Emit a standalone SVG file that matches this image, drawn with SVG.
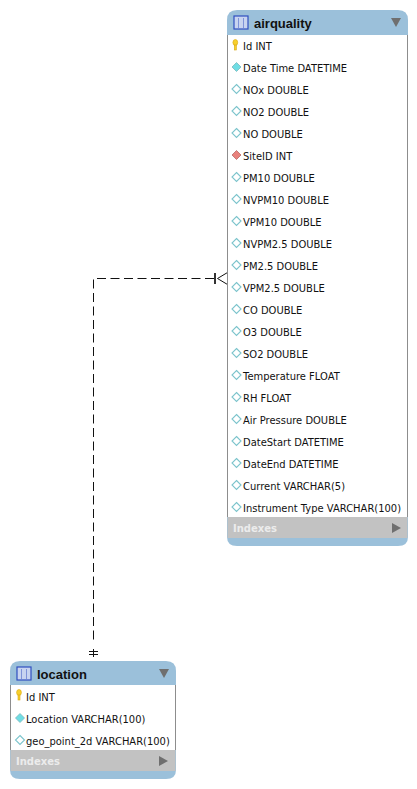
<svg xmlns="http://www.w3.org/2000/svg" width="417" height="789" viewBox="0 0 417 789">
<style>
.f{font-family:"DejaVu Sans","Liberation Sans",sans-serif;font-size:9.950px;fill:#111}
.t{font-family:"Liberation Sans",Arial,sans-serif;font-size:13px;font-weight:bold;fill:#111}
.i{font-family:"DejaVu Sans","Liberation Sans",sans-serif;font-size:10px;font-weight:bold;fill:#ececec}
.c{fill:none;stroke:#111;stroke-width:1}
.h{fill:#9bc0da}
.b{fill:#fff}
.g{fill:#c2c2c2}
.o{fill:none;stroke:#8d8d8d;stroke-width:1}
.ar{fill:#6f6f6f}
.k{fill:#f7d02c;stroke:#d8a714;stroke-width:.6}
.dw{fill:#fff;stroke:#7cc4cc;stroke-width:1.100}
.dc{fill:#6fdde4;stroke:#7ab8bd;stroke-width:.8}
.dr{fill:#e8817c;stroke:#b86a66;stroke-width:.8}
.ic{fill:#c8d4f0;stroke:#2f4fc0;stroke-width:1.200}
.il{stroke:#7f93d8;stroke-width:1}
</style>
<defs>
<path id="dia" d="M0-4.500 4.500 0 0 4.500-4.500 0Z"/>
<g id="key"><ellipse cx="0" cy="-2.500" rx="2.400" ry="3"/><rect x="-1" y="0" width="2" height="5"/></g>
<g id="tic"><rect x="0" y="0" width="14" height="13" class="ic"/><path class="il" d="M4.500 2V12M9.500 2V12"/></g>
</defs>
<g id="connectors">
<path class="c" stroke-dasharray="9 4.500" d="M214 278.500H93.500V644"/>
<path class="c" d="M93.500 649V657M89 651.500H98M89 654.500H98"/>
<path class="c" d="M227.500 272.500 217.500 278.500 227.500 284.500"/>
<path d="M215 273V284" stroke="#333" stroke-width="2" fill="none"/>
</g>
<g id="airquality">
<path class="h" d="M227 518V20Q227 10 237 10H398Q408 10 408 20V537Q408 546 398 546H237Q227 546 227 537Z"/>
<rect class="b" x="227.500" y="35" width="180" height="482"/>
<rect class="g" x="227.500" y="517" width="180" height="21"/>
<path d="M227.500 35V517M407.500 35V517" class="o"/>
<use href="#tic" x="234" y="16"/>
<text class="t" x="254" y="28">airquality</text>
<path class="ar" d="M391 18H401L396 27Z"/>
<use href="#key" class="k" x="235.300" y="45"/>
<text class="f" x="243" y="50">Id INT</text>
<use href="#dia" class="dc" x="236.500" y="67"/>
<text class="f" x="243" y="72">Date Time DATETIME</text>
<use href="#dia" class="dw" x="236.500" y="89"/><text class="f" x="243" y="94">NOx DOUBLE</text>
<use href="#dia" class="dw" x="236.500" y="111"/><text class="f" x="243" y="116">NO2 DOUBLE</text>
<use href="#dia" class="dw" x="236.500" y="133"/><text class="f" x="243" y="138">NO DOUBLE</text>
<use href="#dia" class="dr" x="236.500" y="155"/><text class="f" x="243" y="160">SiteID INT</text>
<use href="#dia" class="dw" x="236.500" y="177"/><text class="f" x="243" y="182">PM10 DOUBLE</text>
<use href="#dia" class="dw" x="236.500" y="199"/><text class="f" x="243" y="204">NVPM10 DOUBLE</text>
<use href="#dia" class="dw" x="236.500" y="221"/><text class="f" x="243" y="226">VPM10 DOUBLE</text>
<use href="#dia" class="dw" x="236.500" y="243"/><text class="f" x="243" y="248">NVPM2.5 DOUBLE</text>
<use href="#dia" class="dw" x="236.500" y="265"/><text class="f" x="243" y="270">PM2.5 DOUBLE</text>
<use href="#dia" class="dw" x="236.500" y="287"/><text class="f" x="243" y="292">VPM2.5 DOUBLE</text>
<use href="#dia" class="dw" x="236.500" y="309"/><text class="f" x="243" y="314">CO DOUBLE</text>
<use href="#dia" class="dw" x="236.500" y="331"/><text class="f" x="243" y="336">O3 DOUBLE</text>
<use href="#dia" class="dw" x="236.500" y="353"/><text class="f" x="243" y="358">SO2 DOUBLE</text>
<use href="#dia" class="dw" x="236.500" y="375"/><text class="f" x="243" y="380">Temperature FLOAT</text>
<use href="#dia" class="dw" x="236.500" y="397"/><text class="f" x="243" y="402">RH FLOAT</text>
<use href="#dia" class="dw" x="236.500" y="419"/><text class="f" x="243" y="424">Air Pressure DOUBLE</text>
<use href="#dia" class="dw" x="236.500" y="441"/><text class="f" x="243" y="446">DateStart DATETIME</text>
<use href="#dia" class="dw" x="236.500" y="463"/><text class="f" x="243" y="468">DateEnd DATETIME</text>
<use href="#dia" class="dw" x="236.500" y="485"/><text class="f" x="243" y="490">Current VARCHAR(5)</text>
<use href="#dia" class="dw" x="236.500" y="507"/><text class="f" x="243" y="512">Instrument Type VARCHAR(100)</text>
<text class="i" x="233" y="532">Indexes</text>
<path class="ar" d="M392 523 401 528 392 533Z"/>
</g>
<g id="location">
<path class="h" d="M10 671Q10 661 20 661H166Q176 661 176 671V770Q176 779 166 779H20Q10 779 10 770Z"/>
<rect class="b" x="10.500" y="685" width="165" height="65"/>
<rect class="g" x="10.500" y="750" width="165" height="21"/>
<path d="M10.500 685V750M175.500 685V750" class="o"/>
<use href="#tic" x="17" y="667"/>
<text class="t" x="37" y="679">location</text>
<path class="ar" d="M159 669H169L164 678Z"/>
<use href="#key" class="k" x="19" y="695"/>
<text class="f" x="26" y="701">Id INT</text>
<use href="#dia" class="dc" x="20" y="718"/><text class="f" x="26" y="723">Location VARCHAR(100)</text>
<use href="#dia" class="dw" x="20" y="740"/><text class="f" x="26" y="745">geo_point_2d VARCHAR(100)</text>
<text class="i" x="16" y="765">Indexes</text>
<path class="ar" d="M159 756 168 761 159 766Z"/>
</g>
</svg>
